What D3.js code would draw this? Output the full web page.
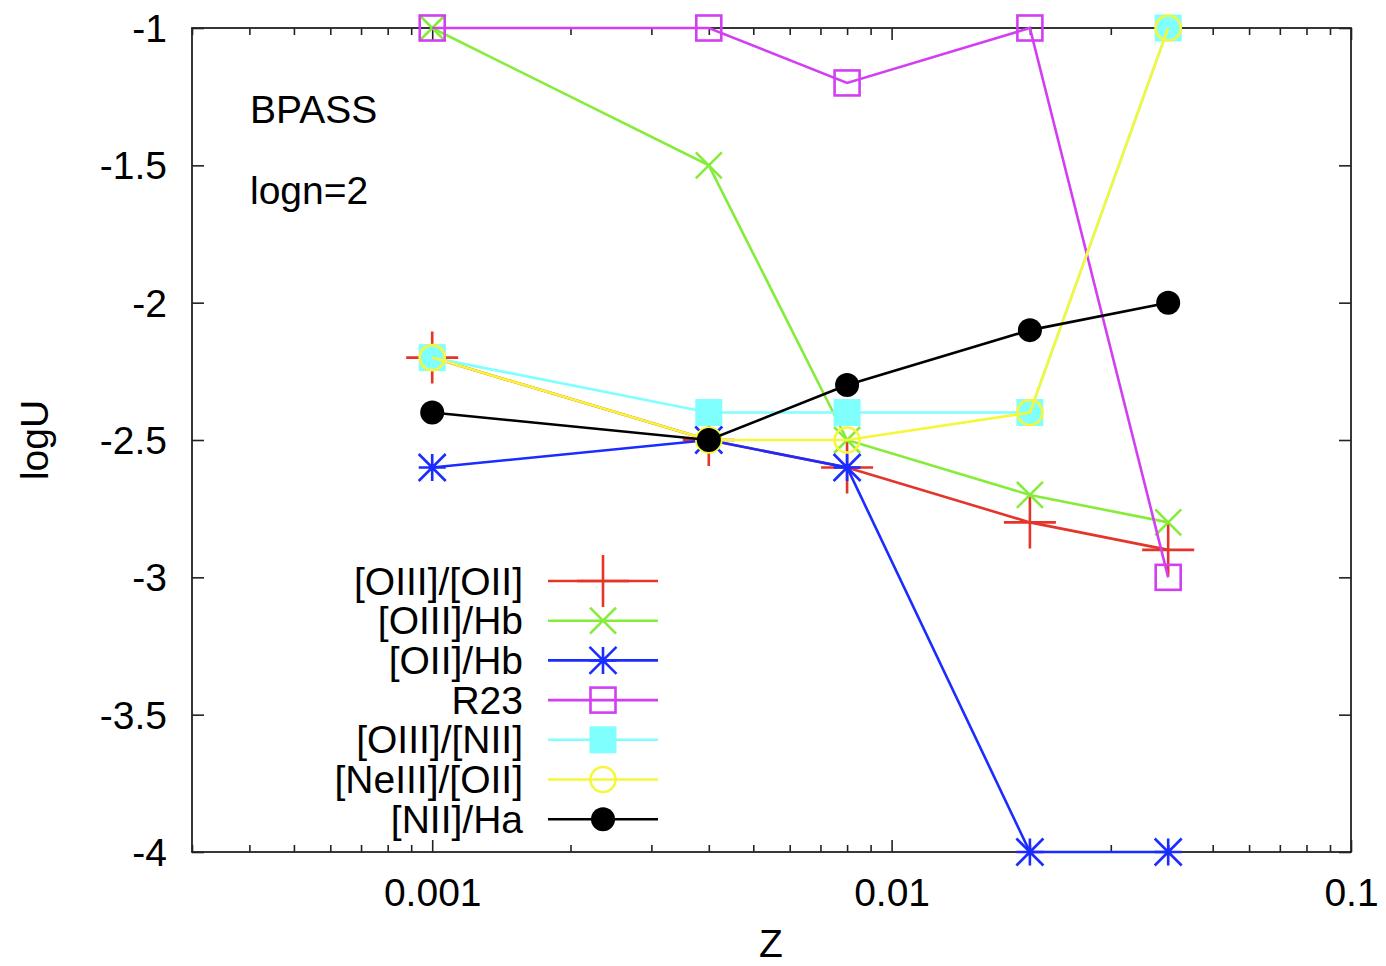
<!DOCTYPE html>
<html>
<head>
<meta charset="utf-8">
<script src="https://cdn.jsdelivr.net/npm/d3@7"></script>
<style>
  html, body { margin: 0; padding: 0; background: #fff; }
  svg { display: block; font-family: "Liberation Sans", Arial, sans-serif; }
</style>
</head>
<body>
<div id="chart"></div>
<script>
// metallicity values on the x axis
const zValues = [0.001, 0.004, 0.008, 0.02, 0.04];

// logU estimates per diagnostic
const seriesNames = ['[OIII]/[OII]', '[OIII]/Hb', '[OII]/Hb', 'R23', '[OIII]/[NII]', '[NeIII]/[OII]', '[NII]/Ha'];
const oiiiOii   = [-2.2, -2.5, -2.6, -2.8, -2.9];
const oiiiHb    = [-1.0, -1.5, -2.5, -2.7, -2.8];
const oiiHb     = [-2.6, -2.5, -2.6, -4.0, -4.0];
const r23       = [-1.0, -1.0, -1.2, -1.0, -3.0];
const oiiiNii   = [-2.2, -2.4, -2.4, -2.4, -1.0];
const neiiiOii  = [-2.2, -2.5, -2.5, -2.4, -1.0];
const niiHa     = [-2.4, -2.5, -2.3, -2.1, -2.0];

// axis ticks
const yTicks = [-4, -3.5, -3, -2.5, -2, -1.5, -1];
const yTickLabels = ['-4', '-3.5', '-3', '-2.5', '-2', '-1.5', '-1'];
const xMajorTicks = [0.001, 0.01, 0.1];
const xTickLabels = ['0.001', '0.01', '0.1'];

const seriesValues = [oiiiOii, oiiiHb, oiiHb, r23, oiiiNii, neiiiOii, niiHa];
const colors = ['#e4352b', '#86ec3a', '#1a2cff', '#d23ef2', '#80ffff', '#f6f63a', '#000000'];
const markers = ['plus', 'cross', 'star', 'square', 'fsquare', 'circle', 'fcircle'];

const W = 1386, H = 966;
const plot = { left: 192, right: 1351, top: 28, bottom: 852 };

const svg = d3.select('#chart').append('svg')
    .attr('width', W)
    .attr('height', H);

const x = d3.scaleLog().domain([0.0003, 0.1]).range([plot.left, plot.right]);
const y = d3.scaleLinear().domain([-4, -1]).range([plot.bottom, plot.top]);

// minor ticks on log axis
const xMinorTicks = [];
[0.0001, 0.001, 0.01].forEach(dec => {
    for (let k = 2; k <= 9; k++) {
        const v = dec * k;
        if (v > 0.0003 && v < 0.1) xMinorTicks.push(v);
    }
});

const fontSize = 39;
const axisColor = '#222';

function styleAxis(g) {
    g.select('.domain').remove();
    g.selectAll('line').attr('stroke', axisColor).attr('stroke-width', 1.6);
    g.selectAll('text')
        .attr('fill', '#000')
        .style('font-family', '"Liberation Sans", Arial, sans-serif')
        .style('font-size', fontSize + 'px');
}

// left axis with labels
svg.append('g')
    .attr('transform', `translate(${plot.left},0)`)
    .call(d3.axisLeft(y).tickValues(yTicks).tickSize(-12).tickPadding(25)
        .tickFormat((d, i) => yTickLabels[i]))
    .call(styleAxis)
    .selectAll('text').attr('dy', '0.35em');

// right axis ticks
svg.append('g')
    .attr('transform', `translate(${plot.right},0)`)
    .call(d3.axisRight(y).tickValues(yTicks).tickSize(-12).tickFormat(''))
    .call(styleAxis);

// bottom axis
svg.append('g')
    .attr('transform', `translate(0,${plot.bottom})`)
    .call(d3.axisBottom(x).tickValues(xMajorTicks).tickSize(-12).tickPadding(26)
        .tickFormat((d, i) => xTickLabels[i]))
    .call(styleAxis)
    .selectAll('text').attr('dy', '0.71em');

svg.append('g')
    .attr('transform', `translate(0,${plot.bottom})`)
    .call(d3.axisBottom(x).tickValues(xMinorTicks).tickSize(-7).tickFormat(''))
    .call(styleAxis);

// top axis
svg.append('g')
    .attr('transform', `translate(0,${plot.top})`)
    .call(d3.axisTop(x).tickValues(xMajorTicks).tickSize(-12).tickFormat(''))
    .call(styleAxis);

svg.append('g')
    .attr('transform', `translate(0,${plot.top})`)
    .call(d3.axisTop(x).tickValues(xMinorTicks).tickSize(-7).tickFormat(''))
    .call(styleAxis);

// frame
svg.append('rect')
    .attr('x', plot.left)
    .attr('y', plot.top)
    .attr('width', plot.right - plot.left)
    .attr('height', plot.bottom - plot.top)
    .attr('fill', 'none')
    .attr('stroke', axisColor)
    .attr('stroke-width', 1.8);

// axis titles
svg.append('text')
    .attr('x', 771)
    .attr('y', 957)
    .attr('text-anchor', 'middle')
    .style('font-size', fontSize + 'px')
    .text('Z');

svg.append('text')
    .attr('transform', 'translate(48,440) rotate(-90)')
    .attr('text-anchor', 'middle')
    .style('font-size', fontSize + 'px')
    .text('logU');

// annotations
svg.append('text')
    .attr('x', 250).attr('y', 123)
    .style('font-size', fontSize + 'px')
    .text('BPASS');

svg.append('text')
    .attr('x', 250).attr('y', 204)
    .style('font-size', fontSize + 'px')
    .text('logn=2');

// marker drawing
function drawMarker(g, type, cx, cy, color) {
    const sw = 2.6;
    if (type === 'plus') {
        const a = 26;
        g.append('path')
            .attr('d', `M${cx - a},${cy}H${cx + a}M${cx},${cy - a}V${cy + a}`)
            .attr('stroke', color).attr('stroke-width', sw).attr('fill', 'none');
    } else if (type === 'cross') {
        const a = 13;
        g.append('path')
            .attr('d', `M${cx - a},${cy - a}L${cx + a},${cy + a}M${cx - a},${cy + a}L${cx + a},${cy - a}`)
            .attr('stroke', color).attr('stroke-width', sw).attr('fill', 'none');
    } else if (type === 'star') {
        const a = 13.5;
        g.append('path')
            .attr('d', `M${cx - a},${cy - a}L${cx + a},${cy + a}M${cx - a},${cy + a}L${cx + a},${cy - a}` +
                `M${cx - a},${cy}H${cx + a}M${cx},${cy - a}V${cy + a}`)
            .attr('stroke', color).attr('stroke-width', sw).attr('fill', 'none');
    } else if (type === 'square') {
        const a = 12.5;
        g.append('rect')
            .attr('x', cx - a).attr('y', cy - a).attr('width', 2 * a).attr('height', 2 * a)
            .attr('stroke', color).attr('stroke-width', sw).attr('fill', 'none');
    } else if (type === 'fsquare') {
        const a = 13.5;
        g.append('rect')
            .attr('x', cx - a).attr('y', cy - a).attr('width', 2 * a).attr('height', 2 * a)
            .attr('fill', color);
    } else if (type === 'circle') {
        g.append('circle')
            .attr('cx', cx).attr('cy', cy).attr('r', 12.5)
            .attr('stroke', color).attr('stroke-width', sw).attr('fill', 'none');
    } else if (type === 'fcircle') {
        g.append('circle')
            .attr('cx', cx).attr('cy', cy).attr('r', 12)
            .attr('fill', color);
    }
}

const line = d3.line()
    .x((d, i) => x(zValues[i]))
    .y(d => y(d));

// series, drawn in gnuplot order
seriesValues.forEach((vals, si) => {
    const g = svg.append('g').attr('class', 'series');
    g.append('path')
        .datum(vals)
        .attr('d', line)
        .attr('fill', 'none')
        .attr('stroke', colors[si])
        .attr('stroke-width', 2.6);
    vals.forEach((v, i) => drawMarker(g, markers[si], x(zValues[i]), y(v), colors[si]));
});

// legend
const legend = { textRight: 523, lineX0: 548, lineX1: 658, markX: 603, y0: 581, step: 39.7 };
seriesNames.forEach((name, si) => {
    const ly = legend.y0 + si * legend.step;
    const g = svg.append('g').attr('class', 'legend-item');
    g.append('text')
        .attr('x', legend.textRight)
        .attr('y', ly)
        .attr('dy', '0.35em')
        .attr('text-anchor', 'end')
        .style('font-size', fontSize + 'px')
        .text(name);
    g.append('line')
        .attr('x1', legend.lineX0).attr('x2', legend.lineX1)
        .attr('y1', ly).attr('y2', ly)
        .attr('stroke', colors[si]).attr('stroke-width', 2.6);
    drawMarker(g, markers[si], legend.markX, ly, colors[si]);
});
</script>
</body>
</html>
